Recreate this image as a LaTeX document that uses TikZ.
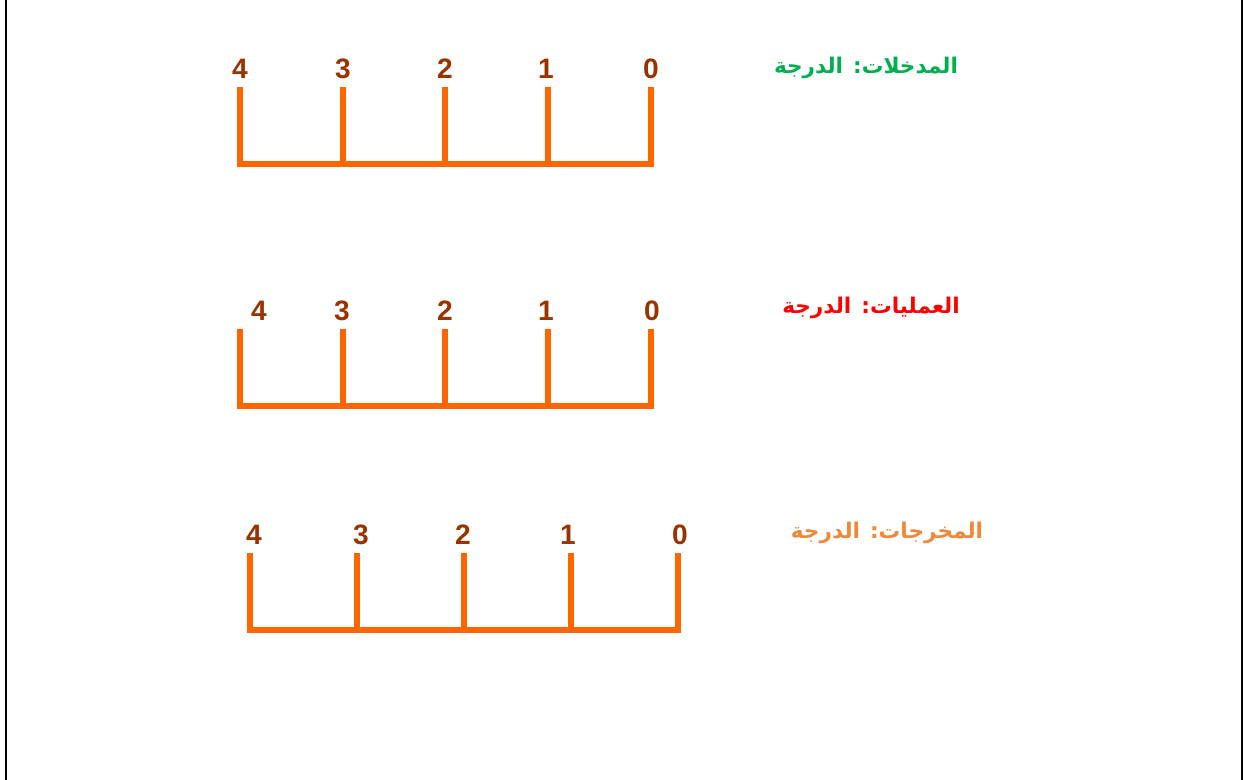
\documentclass[tikz,border=0pt]{standalone}
\usepackage{fontspec}
\setmainfont{Liberation Sans}
\newfontfamily\arabicfont[Script=Arabic]{DejaVu Sans}
\TeXXeTstate=1
\usepackage{xcolor}
\usepackage{tikz}
\definecolor{rulerorange}{HTML}{FF6600}
\definecolor{digitbrown}{HTML}{993300}
\definecolor{ingreen}{HTML}{00B050}
\definecolor{procred}{HTML}{FF0000}
\definecolor{outorange}{HTML}{F0883A}

\begin{document}
\begin{tikzpicture}[
  x=0.02cm, y=-0.02cm,
  tick/.style={draw=rulerorange, line width=3.3pt},
  base/.style={draw=rulerorange, line width=3.3pt, line cap=rect},
  digit/.style={text=digitbrown, font=\fontsize{16}{19}\selectfont\bfseries, inner sep=0pt},
  title/.style={font=\fontsize{12.3}{15}\selectfont\arabicfont\bfseries, inner sep=0pt},
  frame/.style={draw=black, line width=1.2pt}
]
\useasboundingbox (0,0) rectangle (1244,780);
% side rules of the page
\coordinate (lefttop) at (6,0);
\coordinate (leftbot) at (6,780);
\coordinate (righttop) at (1242,0);
\coordinate (rightbot) at (1242,780);
\draw[frame] (lefttop) -- (leftbot);
\draw[frame] (righttop) -- (rightbot);

% inputs scale
\node[title, text=ingreen] (intitle) at (866,68) {\beginR المدخلات: الدرجة\endR};
\foreach \d/\x/\lx in {4/240/240, 3/343/343, 2/445/445, 1/548/546, 0/651/651} {
  \coordinate (in-top-\d) at (\x,87);
  \coordinate (in-bot-\d) at (\x,164);
  \node[digit] (in-lab-\d) at (\lx,69) {\d};
  \draw[tick] (in-top-\d) -- (in-bot-\d);
}
\draw[base] (in-bot-4) -- (in-bot-0);

% processes scale
\node[title, text=procred] (proctitle) at (871,308) {\beginR العمليات: الدرجة\endR};
\foreach \d/\x/\lx in {4/240/259, 3/343/342, 2/445/445, 1/548/546, 0/651/652} {
  \coordinate (proc-top-\d) at (\x,329);
  \coordinate (proc-bot-\d) at (\x,406);
  \node[digit] (proc-lab-\d) at (\lx,311) {\d};
  \draw[tick] (proc-top-\d) -- (proc-bot-\d);
}
\draw[base] (proc-bot-4) -- (proc-bot-0);

% outputs scale
\node[title, text=outorange] (outtitle) at (887,533) {\beginR المخرجات: الدرجة\endR};
\foreach \d/\x/\lx in {4/250/254, 3/357/361, 2/464/463, 1/571/568, 0/678/680} {
  \coordinate (out-top-\d) at (\x,553);
  \coordinate (out-bot-\d) at (\x,630);
  \node[digit] (out-lab-\d) at (\lx,535) {\d};
  \draw[tick] (out-top-\d) -- (out-bot-\d);
}
\draw[base] (out-bot-4) -- (out-bot-0);
\end{tikzpicture}
\end{document}
